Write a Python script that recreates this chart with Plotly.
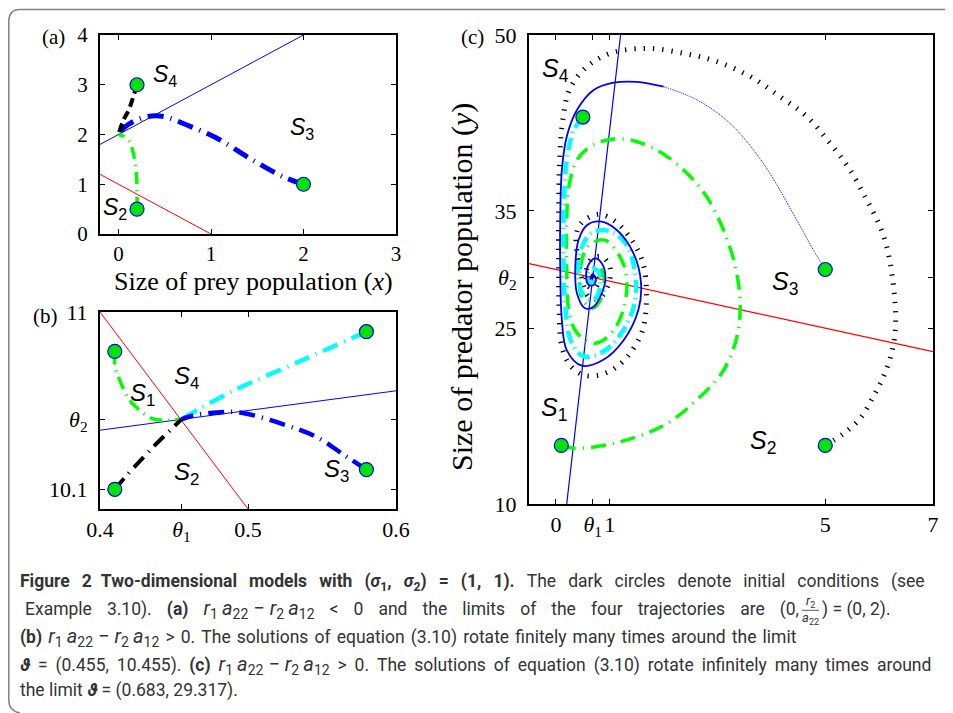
import plotly.graph_objects as go

# page is drawn inside an 8px body margin -> figure is 945x705 placed at (8, 8)
FW, FH, OFF = 945, 705, 8

# ---------------- data: panel (a) ----------------
a_start_x = [0.2, 0.2, 2.0]
a_start_y = [3.0, 0.5, 1.0]
a_null_red_x = [-0.2, 1.0]
a_null_red_y = [1.2, 0.0]
a_null_blue_x = [-0.2, 2.0]
a_null_blue_y = [1.8, 4.0]
a_black_x = [0.2, 0.16, 0.11, 0.054, 0.0]
a_black_y = [3.0, 2.76, 2.49, 2.29, 2.0]
a_blue_x = [2.0, 1.78, 1.42, 1.06, 0.74, 0.49, 0.31, 0.16, 0.057, 0.0]
a_blue_y = [1.0, 1.15, 1.52, 1.93, 2.19, 2.36, 2.36, 2.26, 2.13, 2.0]
a_green_x = [0.2, 0.2, 0.19, 0.16, 0.13, 0.06, 0.0]
a_green_y = [0.5, 0.82, 1.29, 1.62, 1.82, 1.96, 2.0]
a_labels = ["S4", "S3", "S2"]
a_label_x = [0.505, 1.98, -0.036]
a_label_y = [3.18, 2.13, 0.52]
a_xticks = [0, 1, 2, 3]
a_yticks = [0, 1, 2, 3, 4]

# ---------------- data: panel (b) ----------------
b_start_x = [0.41, 0.58, 0.41, 0.58]
b_start_y = [10.8, 10.9, 10.1, 10.2]
b_null_red_x = [0.4, 0.5]
b_null_red_y = [11.0, 10.0]
b_null_blue_x = [0.4, 0.6]
b_null_blue_y = [10.4, 10.6]
b_green_x = [0.41, 0.41, 0.4135, 0.4203, 0.427, 0.436, 0.445, 0.455]
b_green_y = [10.8, 10.73, 10.65, 10.55, 10.50, 10.457, 10.45, 10.455]
b_cyan_x = [0.58, 0.535, 0.49, 0.4676, 0.455]
b_cyan_y = [10.9, 10.75, 10.60, 10.51, 10.455]
b_blue_x = [0.58, 0.5667, 0.5464, 0.5239, 0.4946, 0.479, 0.4631, 0.455]
b_blue_y = [10.2, 10.265, 10.365, 10.43, 10.49, 10.49, 10.475, 10.455]
b_black_x = [0.41, 0.418, 0.436, 0.455]
b_black_y = [10.1, 10.17, 10.315, 10.455]
b_labels = ["S4", "S1", "S2", "S3"]
b_label_x = [0.4586, 0.4288, 0.4586, 0.56]
b_label_y = [10.667, 10.583, 10.181, 10.197]
b_xticks = [0.4, 0.455, 0.5, 0.6]
b_xticktext = ["0.4", "<i>θ</i><sub>1</sub>", "0.5", "0.6"]
b_yticks = [10.1, 10.455, 11.0]
b_yticktext = ["10.1", "<i>θ</i><sub>2</sub>", "11"]

# ---------------- data: panel (c) ----------------
c_start_x = [0.1, 0.5, 5.0, 5.0]
c_start_y = [15.0, 43.0, 15.0, 30.0]
c_null_red_x = [-0.5, 7.0]
c_null_red_y = [30.5, 23.0]
c_null_blue_x = [0.2, 1.2]
c_null_blue_y = [10.0, 50.0]
c_blue_x = [5.0, 4.78, 4.47, 3.85, 3.23, 2.62, 2.0, 1.5, 1.07, 0.70, 0.39, 0.20,
            0.11, 0.08, 0.08, 0.11, 0.20, 0.48, 0.88, 1.26, 1.53, 1.58, 1.44, 1.13,
            0.82, 0.58, 0.42, 0.36, 0.39, 0.54, 0.70, 0.85, 0.92, 0.85, 0.73, 0.62,
            0.56, 0.61, 0.70, 0.74, 0.68, 0.64, 0.68]
c_blue_y = [30.0, 31.66, 34.22, 39.05, 42.47, 44.46, 45.59, 46.0, 45.93, 45.31, 43.6, 41.33,
            38.49, 34.22, 29.96, 25.69, 23.13, 21.8, 22.3, 23.99, 26.55, 28.82, 31.38, 33.37,
            34.1, 33.8, 32.52, 30.24, 27.97, 26.69, 26.83, 27.97, 29.25, 30.53, 30.95, 30.53,
            29.39, 28.68, 28.68, 29.25, 29.6, 29.2, 29.3]
c_cyan_x = [0.5, 0.33, 0.2, 0.15, 0.14, 0.17, 0.27, 0.51, 0.88, 1.22, 1.46, 1.46, 1.28,
            0.98, 0.66, 0.47, 0.42, 0.51, 0.70, 0.82, 0.79, 0.67, 0.58, 0.64, 0.73, 0.68]
c_cyan_y = [43.0, 41.9, 39.3, 35.6, 31.4, 27.1, 24.0, 22.6, 23.0, 24.6, 27.1, 30.0, 32.3,
            33.3, 33.1, 31.8, 29.67, 27.8, 27.4, 28.5, 29.8, 30.1, 29.4, 28.8, 29.1, 29.3]
c_green_x = [0.1, 0.33, 1.07, 2.0, 2.62, 3.11, 3.36, 3.42, 3.33, 3.11, 2.80, 2.37, 1.87,
             1.38, 0.95, 0.64, 0.39, 0.24, 0.2, 0.2, 0.24, 0.39, 0.73, 1.1, 1.31, 1.25,
             0.91, 0.6, 0.45, 0.48, 0.67, 0.85, 0.9, 0.8, 0.68]
c_green_y = [15.0, 14.75, 15.17, 16.7, 18.9, 21.4, 24.27, 27.1, 30.24, 33.37, 36.2, 38.49,
             40.19, 41.05, 41.05, 40.48, 39.34, 37.06, 34.2, 30.0, 26.5, 24.6, 23.7, 25.0,
             28.0, 30.5, 32.5, 32.0, 30.0, 27.6, 26.7, 27.6, 29.1, 30.2, 29.8]
c_black_x = [5.0, 5.34, 5.65, 5.89, 6.08, 6.23, 6.30, 6.30, 6.26, 6.17, 6.02, 5.77, 5.46,
             5.09, 4.66, 4.16, 3.61, 2.99, 2.37, 1.69, 1.01, 0.55, 0.25, 0.12, 0.07, 0.05,
             0.05, 0.06, 0.11, 0.27, 0.51, 0.80, 1.10, 1.40, 1.62, 1.68, 1.62, 1.41, 1.10,
             0.80, 0.48, 0.38, 0.40, 0.48, 0.62, 0.82, 0.98, 1.0, 0.85, 0.66, 0.56, 0.6,
             0.72, 0.8, 0.74, 0.68]
c_black_y = [15.0, 16.0, 17.3, 19.15, 20.86, 22.85, 24.84, 26.83, 28.82, 31.38, 33.65,
             35.93, 38.49, 40.76, 43.04, 44.74, 46.45, 47.73, 48.44, 48.86, 48.44, 47.2,
             45.3, 42.5, 39.5, 35.0, 30.0, 26.5, 23.4, 21.8, 21.0, 21.0, 21.6, 23.0, 25.0,
             28.0, 30.5, 32.5, 34.1, 34.7, 34.0, 33.0, 31.2, 29.2, 27.6, 27.6, 28.8, 30.2,
             31.1, 30.9, 29.8, 28.6, 28.4, 29.2, 29.7, 29.3]
c_labels = ["S4", "S3", "S1", "S2"]
c_label_x = [-0.013, 4.25, -0.03, 3.85]
c_label_y = [47.0, 28.82, 18.07, 15.3]
c_xticks = [0, 0.683, 1, 5, 7]
c_xticktext = ["0", "<i>θ</i><sub>1</sub>", "1", "5", "7"]
c_yticks = [10, 25, 29.317, 35, 50]
c_yticktext = ["10", "25", "<i>θ</i><sub>2</sub>", "35", "50"]

# ---------------- caption text ----------------
TS = "\u2009"            # thin space
GAP1 = " \u2004\u200a"   # justified word gap, line 1
GAP2 = " \u2002\u200a"   # justified word gap, line 2
GAP3 = " \u200a"         # word gap, line 3
GAP4 = " \u2009"         # justified word gap, line 4
MATH = ('<span style="font-size:20px"><i>r</i><sub>1</sub>' + TS + '<i>a</i><sub>22</sub>'
        + ' − <i>r</i><sub>2</sub>' + TS + '<i>a</i><sub>12</sub></span>')
cap1 = GAP1.join(["<b>Figure", "2\u2002Two-dimensional", "models", "with",
                  "(<i>σ</i><sub>1</sub>,", "<i>σ</i><sub>2</sub>)", "=", "(1,", "1).</b>",
                  "The", "dark", "circles", "denote", "initial", "conditions", "(see"])
cap2 = GAP2.join(["Example", "3.10).", "<b>(a)</b>", MATH, "&lt;", "0", "and", "the",
                  "limits", "of", "the", "four", "trajectories", "are", "(0,"])
cap2_end = ") = (0, 2)."
cap3 = GAP3.join(["<b>(b)</b>", MATH, "&gt;", "0.", "The", "solutions", "of", "equation",
                  "(3.10)", "rotate", "finitely", "many", "times", "around", "the", "limit"])
cap4 = GAP4.join(["<b><i>ϑ</i></b>", "=", "(0.455,", "10.455).", "<b>(c)</b>", MATH, "&gt;",
                  "0.", "The", "solutions", "of", "equation", "(3.10)", "rotate", "infinitely",
                  "many", "times", "around"])
cap5 = "the limit <b><i>ϑ</i></b> = (0.683, 29.317)."

# ---------------- styles ----------------
GREEN = "#00ff00"
CYAN = "#00ffff"
BLUE = "#0000ff"
RED = "#ff0000"
MARK = "#00e400"
SERIF = "Liberation Serif, DejaVu Serif, serif"
SANS = "Liberation Sans, Arial, sans-serif"
CAP = "Roboto, sans-serif"
CAPC = "#333333"


def px(x):
    return (x - OFF) / FW


def py(y):
    return 1 - (y - OFF) / FH


fig = go.Figure()


def line(x, y, color, width, dash="solid", ax="", shape="spline"):
    fig.add_trace(go.Scatter(x=x, y=y, mode="lines", xaxis="x" + ax, yaxis="y" + ax,
                             line=dict(color=color, width=width, dash=dash, shape=shape,
                                       smoothing=1.0),
                             hoverinfo="skip", showlegend=False))


def starts(x, y, ax=""):
    fig.add_trace(go.Scatter(x=x, y=y, mode="markers", xaxis="x" + ax, yaxis="y" + ax,
                             marker=dict(size=14, color=MARK, line=dict(color=BLUE, width=1.2)),
                             hoverinfo="skip", showlegend=False))


def slabels(names, xs, ys, ax, size):
    xr = "x" if ax == "" else "x" + ax
    yr = "y" if ax == "" else "y" + ax
    for n, x, y in zip(names, xs, ys):
        fig.add_annotation(x=x, y=y, xref=xr, yref=yr, showarrow=False,
                           xanchor="center", yanchor="middle",
                           text="<i>%s</i><sub>%s</sub>" % (n[0], n[1:]),
                           font=dict(family=SANS, size=size, color="black"))


def text(t, x, y, size, family, xanchor="center", angle=0, color="black"):
    fig.add_annotation(x=px(x), y=py(y), xref="paper", yref="paper", showarrow=False,
                       xanchor=xanchor, yanchor="middle", textangle=angle, text=t,
                       font=dict(family=family, size=size, color=color))


# panel (a)
line(a_null_red_x, a_null_red_y, RED, 1, shape="linear")
line(a_null_blue_x, a_null_blue_y, BLUE, 1, shape="linear")
line(a_green_x, a_green_y, GREEN, 3.5, "12px,6px,1.2px,6px")
line(a_blue_x, a_blue_y, BLUE, 5, "16px,7px,1.2px,7px")
line(a_black_x, a_black_y, "black", 4, "9px,5px")
starts(a_start_x, a_start_y)
slabels(a_labels, a_label_x, a_label_y, "", 23)

# panel (b)
line(b_null_red_x, b_null_red_y, RED, 1, shape="linear", ax="2")
line(b_null_blue_x, b_null_blue_y, BLUE, 1, shape="linear", ax="2")
line(b_green_x, b_green_y, GREEN, 3.5, "13px,6px,1.2px,6px", ax="2")
line(b_cyan_x, b_cyan_y, CYAN, 4.5, "16px,7px,1.2px,7px", ax="2")
line(b_blue_x, b_blue_y, BLUE, 4.5, "16px,7px,1.2px,7px", ax="2")
line(b_black_x, b_black_y, "black", 4, "14px,7px,1.2px,7px", ax="2")
starts(b_start_x, b_start_y, "2")
slabels(b_labels, b_label_x, b_label_y, "2", 24)

# panel (c)
line(c_null_red_x, c_null_red_y, RED, 1.2, shape="linear", ax="3")
line(c_null_blue_x, c_null_blue_y, BLUE, 1.2, shape="linear", ax="3")
line(c_black_x, c_black_y, "black", 5, "1.3px,8px", ax="3")
line(c_green_x, c_green_y, GREEN, 3.5, "15px,7px,1.2px,7px", ax="3")
line(c_cyan_x, c_cyan_y, CYAN, 4.5, "13px,5px,1.2px,5px", ax="3")
line(c_blue_x[:7], c_blue_y[:7], BLUE, 1, "1px,1px", ax="3")
line(c_blue_x[6:], c_blue_y[6:], BLUE, 1.8, ax="3")
starts(c_start_x, c_start_y, "3")
slabels(c_labels, c_label_x, c_label_y, "3", 25)

axis_common = dict(showgrid=False, zeroline=False, showline=True, linecolor="black",
                   linewidth=2, mirror="ticks", ticks="inside", ticklen=5, tickwidth=1,
                   tickcolor="black", automargin=False)

fig.update_layout(
    width=FW, height=FH, margin=dict(l=0, r=0, t=0, b=0, pad=0, autoexpand=False),
    paper_bgcolor="white", plot_bgcolor="white",
    xaxis=dict(domain=[px(100), px(396)], range=[-0.2, 3], anchor="y", ticklabelstandoff=0,
               tickvals=a_xticks, tickfont=dict(family=SERIF, size=21, color="black"), **axis_common),
    yaxis=dict(domain=[py(234), py(35)], range=[0, 4], anchor="x", ticklabelstandoff=6,
               tickvals=a_yticks, tickfont=dict(family=SERIF, size=21, color="black"), **axis_common),
    xaxis2=dict(domain=[px(100), px(396)], range=[0.4, 0.6], anchor="y2", ticklabelstandoff=0,
                tickvals=b_xticks, ticktext=b_xticktext,
                tickfont=dict(family=SERIF, size=22, color="black"), **axis_common),
    yaxis2=dict(domain=[py(509), py(312)], range=[10.0, 11.0], anchor="x2", ticklabelstandoff=6,
                tickvals=b_yticks, ticktext=b_yticktext,
                tickfont=dict(family=SERIF, size=22, color="black"), **axis_common),
    xaxis3=dict(domain=[px(529), px(933)], range=[-0.5, 7], anchor="y3", ticklabelstandoff=0,
                tickvals=c_xticks, ticktext=c_xticktext,
                tickfont=dict(family=SERIF, size=22, color="black"), **axis_common),
    yaxis3=dict(domain=[py(504), py(35)], range=[10, 50], anchor="x3", ticklabelstandoff=6,
                tickvals=c_yticks, ticktext=c_yticktext,
                tickfont=dict(family=SERIF, size=22, color="black"), **axis_common),
)

# panel tags and axis titles
text("(a)", 53, 37, 21, SERIF)
text("(b)", 45, 316, 21, SERIF)
text("(c)", 472, 37, 21, SERIF)
text("Size of prey population (<i>x</i>)", 253, 281, 26, SERIF)
text("Size of predator population (<i>y</i>)", 462, 287, 30, SERIF, angle=-90)

# caption
cap_y = [582.7, 609.3, 637.3, 665, 690.7]
text(cap1, 18, cap_y[0], 17.5, CAP, xanchor="left", color=CAPC)
text(cap2, 801, cap_y[1], 17.5, CAP, xanchor="right", color=CAPC)
text("<i>r</i><sub>2</sub>", 810, cap_y[1] - 8, 13, CAP, color=CAPC)
text("<i>a</i><sub>22</sub>", 810, cap_y[1] + 9, 13, CAP, color=CAPC)
fig.add_shape(type="line", xref="paper", yref="paper", x0=px(802), x1=px(819),
              y0=py(cap_y[1] + 1), y1=py(cap_y[1] + 1), line=dict(color=CAPC, width=0.8))
text(cap2_end, 820, cap_y[1], 17.5, CAP, xanchor="left", color=CAPC)
text(cap3, 18, cap_y[2], 17.5, CAP, xanchor="left", color=CAPC)
text(cap4, 18, cap_y[3], 17.5, CAP, xanchor="left", color=CAPC)
text(cap5, 18, cap_y[4], 17.5, CAP, xanchor="left", color=CAPC)

# outer frame
path = "M %f,%f Q %f,%f %f,%f L %f,%f Q %f,%f %f,%f L %f,%f" % (
    px(20), py(713), px(8.8), py(711), px(8.8), py(700),
    px(8.8), py(22), px(8.8), py(9.5), px(20), py(9.5), px(953), py(9.5))
fig.add_shape(type="path", path=path, xref="paper", yref="paper",
              line=dict(color="#808080", width=1.5))

fig.write_html("out.html")
